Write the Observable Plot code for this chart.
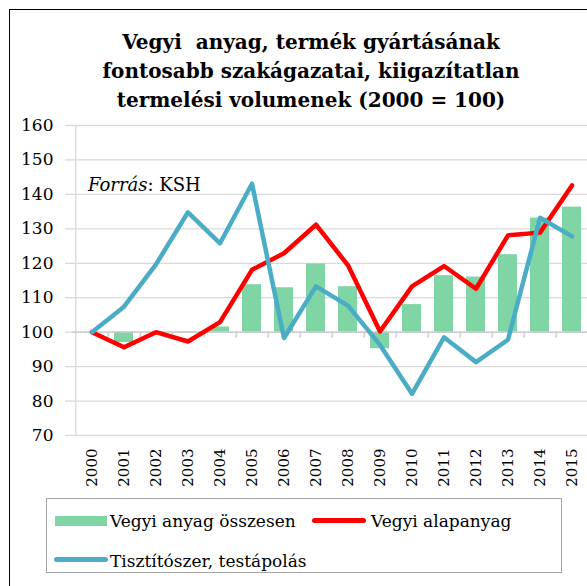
<!DOCTYPE html>
<html><head><meta charset="utf-8">
<script src="https://cdn.jsdelivr.net/npm/d3@7"></script>
<script src="https://cdn.jsdelivr.net/npm/@observablehq/plot@0.6"></script>
<style>
html,body{margin:0;padding:0;background:#fff;overflow:hidden;width:587px;height:586px;}
body{position:relative;color:#000;font-family:'DejaVu Serif';}
#frame{position:absolute;left:9px;top:9px;width:700px;height:700px;border-top:1.5px solid #000;border-left:1.5px solid #000;z-index:10;pointer-events:none;}
#title{position:absolute;left:9px;top:27.5px;width:604px;text-align:center;font-weight:bold;font-size:20px;line-height:29px;z-index:5;font-family:'DejaVu Serif';}
#chart{position:absolute;left:0;top:110px;}
#source{position:absolute;left:88px;top:176px;font-size:18px;line-height:1;z-index:5;font-family:'DejaVu Serif';}
#legend{position:absolute;left:46px;top:498px;width:516px;height:75px;border:1px solid #a6a6a6;box-sizing:border-box;z-index:5;}
.lt{position:absolute;font-size:17px;line-height:1;white-space:nowrap;font-family:'DejaVu Serif';}
.sw{position:absolute;}
</style></head>
<body>
<div id="frame"></div>
<div id="title">Vegyi&nbsp; anyag, termék gyártásának<br>fontosabb szakágazatai, kiigazítatlan<br>termelési volumenek (2000 = 100)</div>
<div id="chart"></div>
<div id="source"><i>Forrás</i>: KSH</div>
<div id="legend"></div>
<script>
const years = ["2000","2001","2002","2003","2004","2005","2006","2007","2008","2009","2010","2011","2012","2013","2014","2015"];
const osszesen = [100, 97, 100, 99.8, 101.5, 113.8, 112.9, 119.8, 113.2, 95.2, 108, 116.4, 116, 122.5, 133.1, 136.3];
const alapanyag = [100, 95.6, 100, 97.3, 102.9, 118.1, 122.9, 131.2, 119.4, 100.2, 113.3, 119.2, 112.6, 128.1, 128.9, 142.6];
const tisztito = [100, 107.4, 119.7, 134.8, 125.8, 143.1, 98.3, 113.3, 107.7, 96.3, 82.1, 98.5, 91.3, 97.8, 133.2, 127.8];
const yTicks = [70, 80, 90, 100, 110, 120, 130, 140, 150, 160];
const seriesNames = ["Vegyi anyag összesen", "Vegyi alapanyag", "Tisztítószer, testápolás"];
const colors = ["#7fd5a4", "#ff0000", "#4bacc6"];

const W = 587, H = 390, mL = 72, mR = -3.4, mT = 15, mB = 65;
const step = (W - mL - mR) / years.length;

const barData = years.map((y, i) => ({year: y, v: osszesen[i]}));
const redData = years.map((y, i) => ({year: y, v: alapanyag[i]}));
const blueData = years.map((y, i) => ({year: y, v: tisztito[i]}));
const grid = "#d9d9d9";
const serif = "'DejaVu Serif'";

const plot = Plot.plot({
  width: W, height: H,
  marginLeft: mL, marginRight: mR, marginTop: mT, marginBottom: mB,
  style: {fontFamily: serif, color: "#000", background: "transparent", overflow: "visible"},
  x: {type: "band", domain: years, paddingInner: 0.4, paddingOuter: 0.2, label: null},
  y: {domain: [70, 160], label: null},
  marks: [
    Plot.gridY(yTicks, {stroke: grid, strokeOpacity: 1, strokeWidth: 1.3}),
    Plot.ruleX([years[0]], {x: d => d, y1: 70, y2: 160, dx: -step * 0.5, stroke: grid, strokeWidth: 1.3}),
    Plot.barY(barData, {x: "year", y1: 100, y2: "v", fill: colors[0]}),
    Plot.ruleY([100], {stroke: "#c8c8c8", strokeWidth: 1.3}),
    Plot.ruleX(years.slice(0, -1), {x: d => d, y1: 100, y2: 98.3, dx: step * 0.5, stroke: "#c8c8c8", strokeWidth: 1.3}),
    Plot.line(redData, {x: "year", y: "v", stroke: colors[1], strokeWidth: 4.5, strokeLinejoin: "round", strokeLinecap: "round"}),
    Plot.line(blueData, {x: "year", y: "v", stroke: colors[2], strokeWidth: 4.5, strokeLinejoin: "round", strokeLinecap: "round"}),
    Plot.axisY(yTicks, {tickSize: 7, tickPadding: 12, stroke: grid, strokeWidth: 1.3, fontSize: 17, label: null}),
    Plot.axisX({tickRotate: -90, tickSize: 0, tickPadding: 13, fontSize: 15, label: null})
  ]
});
document.getElementById("chart").appendChild(plot);

const legend = document.getElementById("legend");
const L = 46, T = 498;
function add(html){ legend.insertAdjacentHTML("beforeend", html); }
add(`<div class="sw" style="left:${54-L}px;top:${515-T}px;width:52px;height:10px;background:${colors[0]}"></div>`);
add(`<div class="lt" style="left:${109-L}px;top:${512-T}px">${seriesNames[0]}</div>`);
add(`<div class="sw" style="left:${311-L}px;top:${517-T}px;width:54px;height:4.5px;border-radius:2.5px;background:${colors[1]}"></div>`);
add(`<div class="lt" style="left:${370-L}px;top:${512-T}px">${seriesNames[1]}</div>`);
add(`<div class="sw" style="left:${53-L}px;top:${556-T}px;width:54px;height:4.5px;border-radius:2.5px;background:${colors[2]}"></div>`);
add(`<div class="lt" style="left:${109-L}px;top:${552-T}px">${seriesNames[2]}</div>`);
</script>
</body></html>
